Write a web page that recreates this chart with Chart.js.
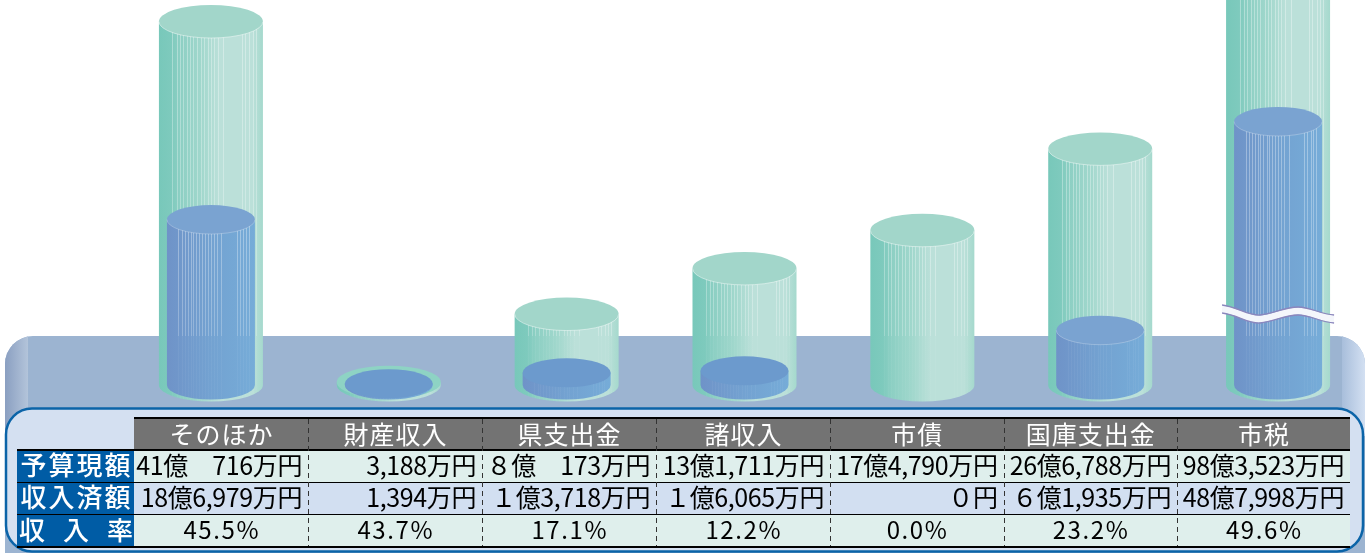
<!DOCTYPE html>
<html lang="ja"><head><meta charset="utf-8">
<style>html,body{margin:0;padding:0;background:#fff}canvas{display:block}</style>
<script src="https://cdn.jsdelivr.net/npm/chart.js@4"></script>
</head><body><canvas id="c" width="1367" height="553"></canvas>
<script>
// values in 億円
const categories = ['そのほか','財産収入','県支出金','諸収入','市債','国庫支出金','市税'];
const budget   = [41.0716, 0.3188, 8.0173, 13.1711, 17.4790, 26.6788, null];
const received = [18.6979, 0.1394, 1.3718, 1.6065, 0, 6.1935, null];
// 市税 is drawn on its own compressed axis (the wave marks the break)
const budgetBroken   = [null,null,null,null,null,null,98.3523];
const receivedBroken = [null,null,null,null,null,null,48.7998];
const rowHeads = ['予算現額','収入済額','収　入　率'];
const budgetText = ['41億　716万円','3,188万円','８億　173万円','13億1,711万円','17億4,790万円','26億6,788万円','98億3,523万円'];
const receivedText = ['18億6,979万円','1,394万円','１億3,718万円','１億6,065万円','０円','６億1,935万円','48億7,998万円'];
const rateText = ['45.5%','43.7%','17.1%','12.2%','0.0%','23.2%','49.6%'];

const FONT = '"Noto Sans CJK JP","Noto Sans",sans-serif';
const stripeFr = [.13,.17,.2,.235,.27,.3,.33,.37,.4,.43,.47,.5,.53,.57,.62,.8,.83,.87,.9,.93];

function cylinder(ctx, x, yTop, yBase, w, kind){
  const rx = w/2, ry = kind==='g' ? 16.5 : 14.5, L = x-rx;
  const g = ctx.createLinearGradient(L,0,L+w,0);
  if(kind==='g'){
    g.addColorStop(0,'#78c8ba');g.addColorStop(.12,'#7ecabd');g.addColorStop(.2,'#8ccfc3');
    g.addColorStop(.4,'#a0d7cc');g.addColorStop(.58,'#bbe0d9');g.addColorStop(.9,'#bbe0d9');g.addColorStop(1,'#a5d9cd');
  } else {
    g.addColorStop(0,'#6f93c8');g.addColorStop(.5,'#73a2d1');g.addColorStop(1,'#76acd8');
  }
  const inBand = yTop>336;
  ctx.save();
  ctx.beginPath();
  ctx.moveTo(L,yTop);
  ctx.lineTo(L,yBase);
  ctx.ellipse(x,yBase,rx,ry,0,Math.PI,0,true);
  ctx.lineTo(L+w,yTop);
  ctx.closePath();
  ctx.fillStyle=g;ctx.fill();
  ctx.clip();
  const top = Math.max(yTop,0), span = Math.max(yBase+ry-top,1);
  const a = ctx.createLinearGradient(0,top,0,yBase+ry);
  const f = Math.min(1,Math.max(0,(336-top)/span));
  a.addColorStop(0,'rgba(255,255,255,.34)');
  a.addColorStop(f,'rgba(255,255,255,.24)');
  a.addColorStop(Math.min(1,f+.001),'rgba(255,255,255,.05)');
  a.addColorStop(1,'rgba(255,255,255,.03)');
  ctx.fillStyle=a;
  stripeFr.forEach(s=>ctx.fillRect(Math.round(L+w*s),yTop-2,1,yBase+ry-yTop+4));
  ctx.restore();
  if(yTop>-ry){
    ctx.beginPath();ctx.ellipse(x,yTop,rx,ry,0,0,Math.PI*2);
    ctx.fillStyle = kind==='g' ? (inBand?'#8ed3c4':'#a2d6ca') : (inBand?'#6c9acd':'#7aa3d1');ctx.fill();
    if(!inBand){
      ctx.beginPath();ctx.ellipse(x,yTop,rx,ry,0,0,Math.PI);
      ctx.strokeStyle='rgba(255,255,255,'+(kind==='g'?.45:.25)+')';ctx.lineWidth=1;ctx.stroke();
    }
  }
}

const cylinderPlugin = {
  id:'cylinder',
  beforeDatasetDraw(chart,args){
    const ctx=chart.ctx, kind=chart.data.datasets[args.index].kind;
    args.meta.data.forEach((el,i)=>{
      const v=chart.data.datasets[args.index].data[i];
      if(v===null||v===0) return;
      cylinder(ctx,el.x,el.y,el.base,el.width,kind);
    });
    return false;
  }
};

function rr(ctx,x,y,w,h,r){ctx.beginPath();ctx.roundRect(x,y,w,h,r);}
function text(ctx,s,x,y,o){
  ctx.font=(o.weight||400)+' '+o.size+'px '+FONT;
  ctx.letterSpacing=(o.ls||0)+'px';
  ctx.textAlign=o.align||'center';ctx.textBaseline='middle';
  ctx.fillStyle=o.color||'#000';
  ctx.fillText(s,x+(o.align==='right'?0:(o.ls||0)/2),y);
  ctx.letterSpacing='0px';
}

const stagePlugin = {
  id:'stage',
  beforeDatasetsDraw(chart){
    const ctx=chart.ctx;
    ctx.save();
    rr(ctx,5,336,1360,217,[28,28,0,0]);ctx.fillStyle='#9cb4d1';ctx.fill();
    ctx.clip();
    let g=ctx.createLinearGradient(5,0,28,0);
    g.addColorStop(0,'#8a9fc1');g.addColorStop(1,'#b3c4da');
    ctx.fillStyle=g;ctx.fillRect(5,336,23,100);
    g=ctx.createLinearGradient(1342,0,1365,0);
    g.addColorStop(0,'#a8bedb');g.addColorStop(1,'#d3e0f2');
    ctx.fillStyle=g;ctx.fillRect(1342,336,23,100);
    ctx.restore();
  },
  afterDatasetsDraw(chart){
    const ctx=chart.ctx;
    // wave break on the last column
    const el=chart.getDatasetMeta(2).data[6], cx=el.x;
    const wave=(dy)=>{ctx.beginPath();ctx.moveTo(cx-56,305+dy);
      ctx.bezierCurveTo(cx-40,307+dy,cx-30,316+dy,cx-18,315+dy);
      ctx.bezierCurveTo(cx-4,314+dy,cx+6,307+dy,cx+20,307+dy);
      ctx.bezierCurveTo(cx+32,307+dy,cx+42,314+dy,cx+56,315+dy);};
    ctx.save();
    wave(4);ctx.strokeStyle='#f4f6fb';ctx.lineWidth=7;ctx.stroke();
    ctx.strokeStyle='#8b86bd';ctx.lineWidth=1.3;
    wave(0);ctx.stroke();wave(8);ctx.stroke();

    // table panel
    rr(ctx,6,408.5,1357,143,26);ctx.fillStyle='#d4e0f1';ctx.fill();
    ctx.strokeStyle='#0b64a8';ctx.lineWidth=2.5;ctx.stroke();

    const X=[134,308,482,656,830,1003.5,1177,1350];
    const Y=[418,450,482,514,546];
    ctx.fillStyle='#737373';ctx.fillRect(134,Y[0],1216,32);
    ctx.fillStyle='#005ca5';ctx.fillRect(17,450,117,96);
    ctx.fillStyle='#dfefec';ctx.fillRect(134,450,1216,32);ctx.fillRect(134,514,1216,32);
    ctx.fillStyle='#d2dff1';ctx.fillRect(134,482,1216,32);
    ctx.fillStyle='#000';
    ctx.fillRect(134,417,1216,2);
    ctx.fillRect(17,449,1333,2);
    ctx.fillRect(17,482,1333,1);
    ctx.fillRect(17,514,1333,1);
    ctx.fillRect(17,546,1333,2);
    // dashed dividers
    for(let i=1;i<7;i++){
      ctx.strokeStyle='#333';ctx.lineWidth=1;ctx.setLineDash([5,4]);
      ctx.beginPath();ctx.moveTo(Math.round(X[i])+.5,419);ctx.lineTo(Math.round(X[i])+.5,546);ctx.stroke();
    }
    ctx.setLineDash([]);
    categories.forEach((c,i)=>{
      const mid=(X[i]+X[i+1])/2;
      text(ctx,c,mid,434,{size:25,ls:1,color:'#fff'});
      text(ctx,budgetText[i],X[i+1]-6,465.5,{size:25,align:'right',ls:-.4});
      text(ctx,receivedText[i],X[i+1]-6,497.5,{size:25,align:'right',ls:-.4});
      text(ctx,rateText[i],mid,530,{size:24,ls:1.6});
    });
    text(ctx,rowHeads[0],75.5,465.5,{size:26,ls:2,color:'#fff',weight:500});
    text(ctx,rowHeads[1],75.5,497.5,{size:26,ls:2,color:'#fff',weight:500});
    text(ctx,rowHeads[2],76,530,{size:26,ls:-4,color:'#fff',weight:500});
    ctx.restore();
  }
};

new Chart(document.getElementById('c'),{
  type:'bar',
  data:{labels:categories,datasets:[
    {label:'予算現額',kind:'g',data:budget,yAxisID:'y',barThickness:104,order:2,backgroundColor:'#a2d6ca'},
    {label:'収入済額',kind:'b',data:received,yAxisID:'y',barThickness:88,order:1,backgroundColor:'#7aa3d1'},
    {label:'予算現額(市税)',kind:'g',data:budgetBroken,yAxisID:'yBreak',barThickness:104,order:4,backgroundColor:'#a2d6ca'},
    {label:'収入済額(市税)',kind:'b',data:receivedBroken,yAxisID:'yBreak',barThickness:88,order:3,backgroundColor:'#7aa3d1'}
  ]},
  options:{
    responsive:false,animation:false,
    layout:{padding:{left:122,right:0,top:0,bottom:168}},
    datasets:{bar:{grouped:false}},
    plugins:{legend:{display:false},tooltip:{enabled:false}},
    scales:{
      x:{display:false,grid:{display:false}},
      y:{display:false,min:0,max:385/8.85},
      yBreak:{display:false,min:0,max:385/5.4}
    }
  },
  plugins:[stagePlugin,cylinderPlugin]
});
</script></body></html>
